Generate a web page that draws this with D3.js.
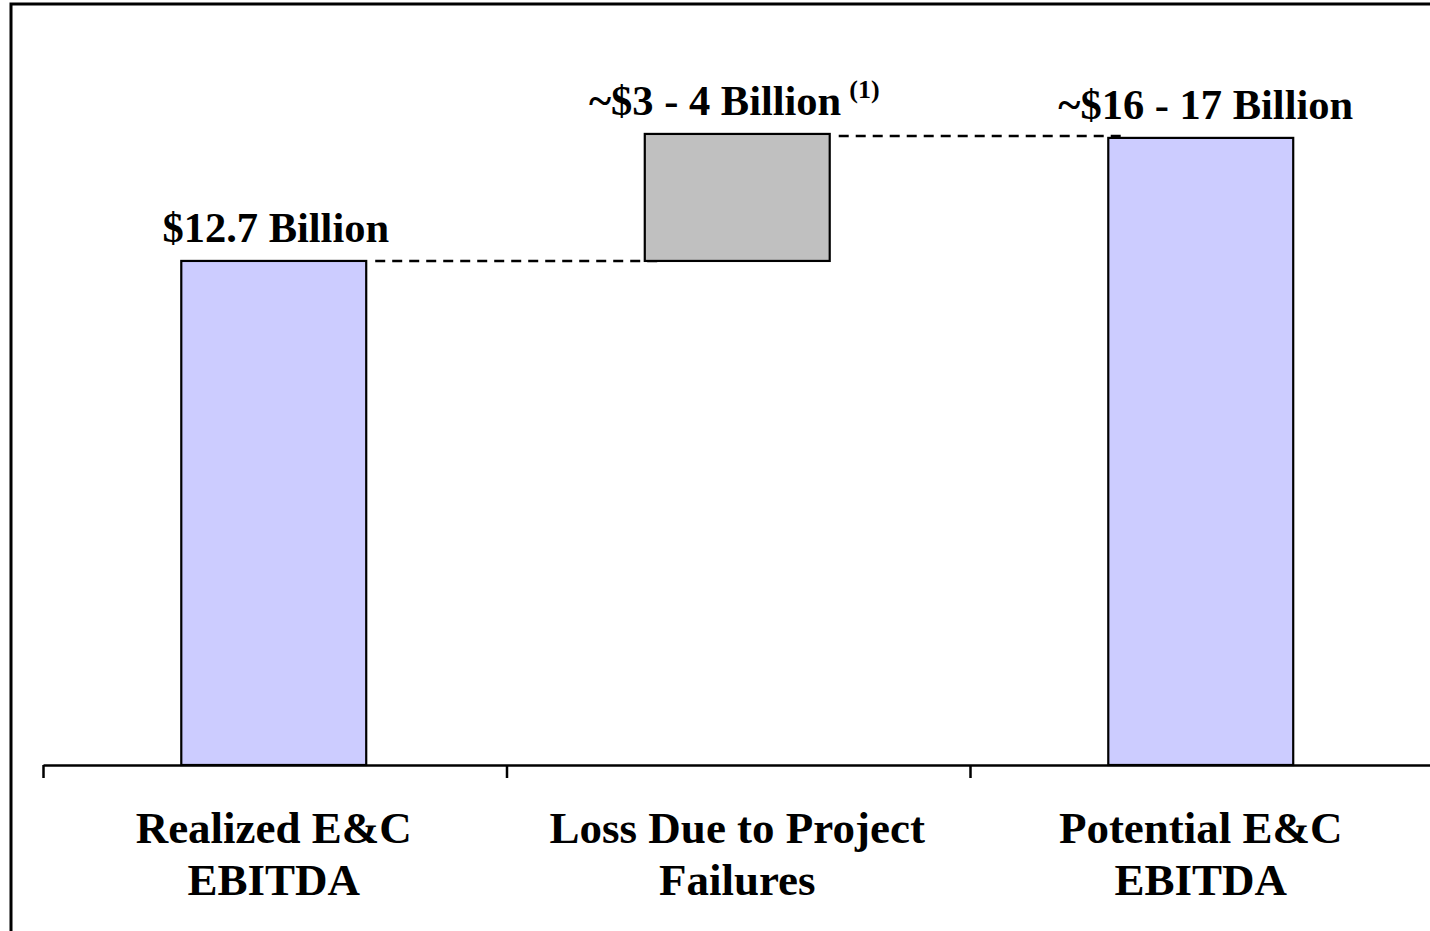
<!DOCTYPE html>
<html><head><meta charset="utf-8">
<script src="https://cdn.jsdelivr.net/npm/d3@7"></script>
<style>body{margin:0;background:#fff}svg{display:block}</style>
</head><body><svg id="c" width="1430" height="931"></svg>
<script>
// Data
const categories = [["Realized E&C","EBITDA"],["Loss Due to Project","Failures"],["Potential E&C","EBITDA"]];
const barStart = [0, 12.7, 0];
const barEnd   = [12.7, 15.9, 15.8];
const valueLabels = ["$12.7 Billion", "~$3 - 4 Billion", "~$16 - 17 Billion"];
const footnote = ["", "(1)", ""];
const connectorValues = [12.7, 15.85];
const fills = ["#CCCCFF", "#C0C0C0", "#CCCCFF"];

const svg = d3.select("#c");
const font = "'Liberation Serif','Times New Roman',serif";

// frame
svg.append("rect").attr("x",11).attr("y",4).attr("width",1440).attr("height",950)
  .attr("fill","none").attr("stroke","#000").attr("stroke-width",3);

const x = d3.scaleBand().domain(d3.range(categories.length)).range([43,1433.5]).padding(0);
const y = d3.scaleLinear().domain([0,16]).range([765, 765-16*39.69]);
const bw = x.bandwidth()*0.399;
const bx = i => x(i) + (x.bandwidth()-bw)/2 - 1;

// axis with ticks at band boundaries
const xi = d3.scaleLinear().domain([0,3]).range([43,1433.5]);
const axis = svg.append("g").attr("transform",`translate(0,${y(0)})`)
  .call(d3.axisBottom(xi).tickValues([0,1,2]).tickSize(13).tickSizeOuter(0).tickFormat(""));
axis.select(".domain").attr("stroke","#000").attr("stroke-width",2.5);
axis.selectAll(".tick line").attr("stroke","#000").attr("stroke-width",2.5);

// connectors
svg.selectAll(".conn").data(connectorValues).enter().append("line")
  .attr("x1",(d,i)=>bx(i)+bw+9).attr("x2",(d,i)=>bx(i+1)+19)
  .attr("y1",d=>y(d)).attr("y2",d=>y(d))
  .attr("stroke","#000").attr("stroke-width",2.5).attr("stroke-dasharray","10,7");

// bars
svg.selectAll(".bar").data(categories).enter().append("rect")
  .attr("x",(d,i)=>bx(i)).attr("width",bw)
  .attr("y",(d,i)=>y(barEnd[i])).attr("height",(d,i)=>y(barStart[i])-y(barEnd[i]))
  .attr("fill",(d,i)=>fills[i]).attr("stroke","#000").attr("stroke-width",2.2);

// value labels
const vl = svg.selectAll(".vl").data(valueLabels).enter().append("text")
  .attr("x",(d,i)=>x(i)+x.bandwidth()/2 + (i===0?1:(i===1?-4:4)))
  .attr("y",(d,i)=>y(barEnd[i])-19)
  .attr("text-anchor","middle").attr("font-family",font).attr("font-weight","bold")
  .attr("font-size",42.5).attr("fill","#000");
vl.append("tspan").text(d=>d);
vl.filter((d,i)=>footnote[i]).append("tspan").attr("font-size",26).attr("dx",8).attr("dy",-17)
  .text((d,i)=>footnote[1]);

// category labels
categories.forEach((lines,i)=>{
  lines.forEach((t,j)=>{
    svg.append("text").attr("x",x(i)+x.bandwidth()/2 - 1).attr("y",843+j*52)
      .attr("text-anchor","middle").attr("font-family",font).attr("font-weight","bold")
      .attr("font-size",45).attr("fill","#000").text(t);
  });
});
</script></body></html>
